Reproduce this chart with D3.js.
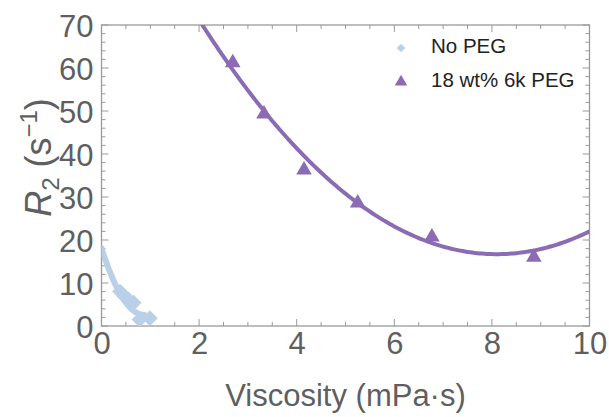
<!DOCTYPE html>
<html>
<head>
<meta charset="utf-8">
<script src="https://cdn.jsdelivr.net/npm/d3@7"></script>
<style>
  html, body { margin: 0; padding: 0; background: #fff; }
  svg { display: block; }
  text { font-family: "Liberation Sans", Arial, sans-serif; }
</style>
</head>
<body>
<svg id="chart" width="609" height="417"></svg>
<script>
// Measured R2 relaxation rates versus viscosity
const noPegViscosity = [0.38, 0.46, 0.55, 0.66, 0.78, 0.99];
const noPegR2        = [8.0, 7.0, 6.2, 5.4, 1.5, 1.8];

const pegViscosity = [2.69, 3.33, 4.15, 5.25, 6.77, 8.86];
const pegR2        = [61.2, 49.3, 36.3, 28.6, 20.7, 16.0];

// Quadratic fit parameters [c0, c1, c2] and the x range each fit is drawn over
const noPegFit = [18.1, -35.4, 20.2];
const noPegFitRange = [0, 0.87];
const pegFit = [112.8, -23.73, 1.465];
const pegFitRange = [0, 10];

const seriesNames = ["No PEG", "18 wt% 6k PEG"];
const xTickValues = [0, 2, 4, 6, 8, 10];
const yTickValues = [0, 10, 20, 30, 40, 50, 60, 70];

const colBlue = "#b9d0e8";
const colPurple = "#8b6bb4";
const frameCol = "#9a9a9a";
const labelCol = "#5f5f5f";

const svg = d3.select("#chart");
const m = { left: 101.5, right: 19.5, top: 25, bottom: 91 };
const W = 609, H = 417;
const x = d3.scaleLinear().domain([0, 10]).range([m.left, W - m.right]);
const y = d3.scaleLinear().domain([0, 70]).range([H - m.bottom, m.top]);

svg.append("defs").append("clipPath").attr("id", "plotClip")
  .append("rect")
  .attr("x", x(0)).attr("y", y(70))
  .attr("width", x(10) - x(0)).attr("height", y(0) - y(70));

// Frame with inward ticks on all four sides
const minorX = d3.range(0, 10.001, 0.5);
const minorY = d3.range(0, 70.001, 2);
const tickG = svg.append("g").attr("stroke", frameCol).attr("stroke-width", 1);

function isMajor(v, step) { return Math.abs(v / step - Math.round(v / step)) < 1e-6; }

minorX.forEach(v => {
  const len = isMajor(v, 2) ? 7 : 4;
  tickG.append("line").attr("x1", x(v)).attr("x2", x(v)).attr("y1", y(0)).attr("y2", y(0) - len);
  tickG.append("line").attr("x1", x(v)).attr("x2", x(v)).attr("y1", y(70)).attr("y2", y(70) + len);
});
minorY.forEach(v => {
  const len = isMajor(v, 10) ? 7 : 4;
  tickG.append("line").attr("y1", y(v)).attr("y2", y(v)).attr("x1", x(0)).attr("x2", x(0) + len);
  tickG.append("line").attr("y1", y(v)).attr("y2", y(v)).attr("x1", x(10)).attr("x2", x(10) - len);
});

svg.append("rect")
  .attr("x", x(0)).attr("y", y(70))
  .attr("width", x(10) - x(0)).attr("height", y(0) - y(70))
  .attr("fill", "none").attr("stroke", frameCol).attr("stroke-width", 1.3);

// Tick labels via d3 axes, with the axis lines themselves hidden
const xAxis = svg.append("g").attr("transform", `translate(0,${y(0)})`)
  .call(d3.axisBottom(x).tickValues(xTickValues).tickSize(0).tickPadding(6).tickFormat(d3.format("d")));
const yAxis = svg.append("g").attr("transform", `translate(${x(0)},0)`)
  .call(d3.axisLeft(y).tickValues(yTickValues).tickSize(0).tickPadding(8).tickFormat(d3.format("d")));
[xAxis, yAxis].forEach(a => {
  a.select(".domain").remove();
  a.selectAll("text").attr("fill", labelCol).style("font-size", "31px")
    .style("font-family", '"Liberation Sans", Arial, sans-serif');
});
xAxis.selectAll("text").attr("dy", "0.71em");
yAxis.selectAll("text").attr("dy", "0.36em");

// Axis titles
svg.append("text")
  .attr("x", (x(0) + x(10)) / 2).attr("y", 406)
  .attr("text-anchor", "middle").attr("fill", labelCol).style("font-size", "31px")
  .text("Viscosity (mPa·s)");

const yTitle = svg.append("text")
  .attr("transform", `translate(51,${(y(0) + y(70)) / 2 - 18}) rotate(-90)`)
  .attr("text-anchor", "middle").attr("fill", labelCol).style("font-size", "36px");
yTitle.append("tspan").style("font-style", "italic").text("R");
yTitle.append("tspan").attr("dy", 8).style("font-size", "24px").text("2");
yTitle.append("tspan").attr("dy", -8).text(" (s");
yTitle.append("tspan").attr("dy", -14).style("font-size", "24px").text("−1");
yTitle.append("tspan").attr("dy", 14).text(")");

// Fitted curves
const plot = svg.append("g").attr("clip-path", "url(#plotClip)");
function fitPoints(c, range) {
  const n = 200;
  return d3.range(n + 1).map(i => {
    const xv = range[0] + (range[1] - range[0]) * i / n;
    return [xv, c[0] + c[1] * xv + c[2] * xv * xv];
  });
}
const line = d3.line().x(d => x(d[0])).y(d => y(d[1]));
plot.append("path").datum(fitPoints(noPegFit, noPegFitRange))
  .attr("d", line).attr("fill", "none").attr("stroke", colBlue)
  .attr("stroke-width", 6).attr("stroke-linecap", "round");
plot.append("path").datum(fitPoints(pegFit, pegFitRange))
  .attr("d", line).attr("fill", "none").attr("stroke", colPurple)
  .attr("stroke-width", 4);

// Markers
const diamond = d3.symbol().type(d3.symbolSquare).size(125);
const triangle = d3.symbol().type(d3.symbolTriangle).size(105);

plot.selectAll(".dia").data(d3.zip(noPegViscosity, noPegR2)).join("path")
  .attr("class", "dia")
  .attr("transform", d => `translate(${x(d[0])},${y(d[1])}) rotate(45)`)
  .attr("d", diamond).attr("fill", colBlue);

plot.selectAll(".tri").data(d3.zip(pegViscosity, pegR2)).join("path")
  .attr("class", "tri")
  .attr("transform", d => `translate(${x(d[0])},${y(d[1])})`)
  .attr("d", triangle).attr("fill", colPurple);

// Legend
const legend = svg.append("g");
const legendRows = [
  { name: seriesNames[0], sym: diamond, rot: 45, col: colBlue, sz: 0.55 },
  { name: seriesNames[1], sym: triangle, rot: 0, col: colPurple, sz: 0.8 }
];
legendRows.forEach((r, i) => {
  const cy = 46 + i * 34;
  legend.append("path")
    .attr("transform", `translate(401,${cy + 2}) rotate(${r.rot}) scale(${r.sz})`)
    .attr("d", r.sym).attr("fill", r.col);
  legend.append("text").attr("x", 431).attr("y", cy).attr("dy", "0.35em")
    .attr("fill", "#222").style("font-size", "20.5px").text(r.name);
});
</script>
</body>
</html>
